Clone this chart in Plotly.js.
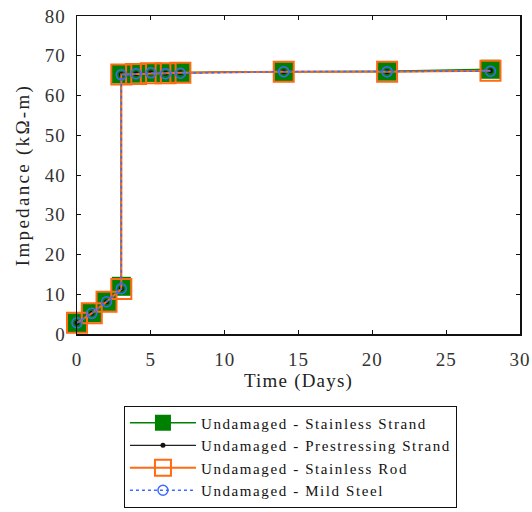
<!DOCTYPE html>
<html>
<head>
<meta charset="utf-8">
<script src="https://cdn.plot.ly/plotly-3.0.1.min.js"></script>
<style>
html,body{margin:0;padding:0;background:#fff;}
.xtitle{letter-spacing:1.2px;}
.ytitle{letter-spacing:2.3px;}
.legendtext{letter-spacing:1.6px;}
.xtick text,.ytick text{letter-spacing:1px;}
</style>
</head>
<body>
<div id="chart" style="width:532px;height:512px;"></div>
<script>
const days = [0, 1, 2, 3, 3, 4, 5, 6, 7, 14, 21, 28];
const stainlessStrand = [2.8, 5.3, 8.2, 12.0, 65.4, 65.6, 65.8, 65.7, 65.8, 66.0, 66.1, 66.6];
const prestressingStrand = [2.8, 5.2, 8.1, 11.4, 65.3, 65.5, 65.7, 65.6, 65.7, 66.0, 66.0, 66.2];
const stainlessRod = [2.8, 5.2, 8.1, 11.3, 65.3, 65.4, 65.6, 65.6, 65.7, 66.0, 66.0, 66.2];
const mildSteel = [2.8, 5.2, 8.1, 11.4, 65.2, 65.5, 65.7, 65.5, 65.6, 66.0, 66.0, 66.1];
const seriesNames = ["Undamaged - Stainless Strand", "Undamaged - Prestressing Strand", "Undamaged - Stainless Rod", "Undamaged - Mild Steel"];

const serif = "'Liberation Serif', 'Times New Roman', Times, serif";
const traces = [
  {x: days, y: stainlessStrand, name: seriesNames[0], mode: "lines+markers", cliponaxis: false,
   line: {color: "#008000", width: 1.5},
   marker: {symbol: "square", size: 19, color: "#008000"}},
  {x: days, y: prestressingStrand, name: seriesNames[1], mode: "lines+markers", cliponaxis: false,
   line: {color: "#222222", width: 1.2},
   marker: {symbol: "circle", size: 5, color: "#111111"}},
  {x: days, y: stainlessRod, name: seriesNames[2], mode: "lines+markers", cliponaxis: false,
   line: {color: "#FF6A13", width: 2},
   marker: {symbol: "square-open", size: 20, color: "#FF6A13", line: {width: 2}}},
  {x: days, y: mildSteel, name: seriesNames[3], mode: "lines+markers", cliponaxis: false,
   line: {color: "#3D6BFF", width: 1.5, dash: "dot"},
   marker: {symbol: "circle-open", size: 10, color: "#3D6BFF", line: {width: 1.5}}}
];

const layout = {
  width: 532, height: 512,
  margin: {l: 77, r: 12, t: 16, b: 178, autoexpand: false},
  paper_bgcolor: "#ffffff", plot_bgcolor: "#ffffff",
  font: {family: serif, color: "#222222"},
  showlegend: true,
  xaxis: {
    range: [0, 30], dtick: 5, showgrid: false, zeroline: false,
    showline: true, linecolor: "#111111", linewidth: 1.5, mirror: "ticks",
    ticks: "inside", ticklen: 4, tickcolor: "#111111",
    ticklabelstandoff: 8,
    tickfont: {family: serif, size: 19, color: "#333333"},
    title: {text: "Time (Days)", font: {family: serif, size: 19, color: "#222222"}, standoff: 4}
  },
  yaxis: {
    range: [0, 80], dtick: 10, showgrid: false, zeroline: false,
    showline: true, linecolor: "#111111", linewidth: 1.5, mirror: "ticks",
    ticks: "inside", ticklen: 4, tickcolor: "#111111",
    ticklabelstandoff: 6,
    tickfont: {family: serif, size: 19, color: "#333333"},
    title: {text: "Impedance (kΩ-m)", font: {family: serif, size: 19, color: "#222222"}, standoff: 10}
  },
  legend: {
    x: 0.106, xanchor: "left", y: -0.225, yanchor: "top",
    bgcolor: "#ffffff", bordercolor: "#111111", borderwidth: 1,
    font: {family: serif, size: 15, color: "#111111"},
    itemwidth: 66, tracegroupgap: 0, traceorder: "normal"
  }
};

Plotly.newPlot("chart", traces, layout, {displayModeBar: false, staticPlot: true});
</script>
</body>
</html>
